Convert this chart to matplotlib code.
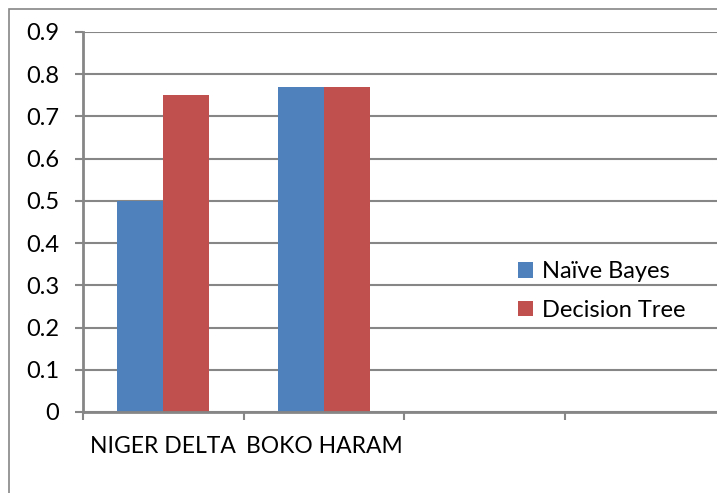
import numpy as np
import matplotlib
matplotlib.use('Agg')
import matplotlib.pyplot as plt
from matplotlib.patches import Rectangle

plt.rcParams['font.family'] = ['Lato', 'DejaVu Sans']

# Datos del gráfico
categorias = ['NIGER DELTA', 'BOKO HARAM', '', '']
naive_bayes = [0.5, 0.77]
decision_tree = [0.75, 0.77]
series = ['Naïve Bayes', 'Decision Tree']
colores = ['#4F81BD', '#C0504D']
gris = '#868686'

fig = plt.figure(figsize=(7.17, 4.93), dpi=100)
fig.patch.set_facecolor('white')

# Borde exterior del gráfico (se sale de la imagen a la derecha y abajo)
fig.patches.append(Rectangle((9 / 717, -0.1), 1.2, 1 - 9 / 493 + 0.1,
                             transform=fig.transFigure, fill=False,
                             edgecolor=gris, linewidth=1.2))

ax = fig.add_axes([83 / 717, 1 - 412 / 493, 643 / 717, 380 / 493])

ancho = 1 / 3.5
x = np.arange(len(naive_bayes)) + 0.5
ax.bar(x - ancho / 2, naive_bayes, ancho, color=colores[0], label=series[0])
ax.bar(x + ancho / 2, decision_tree, ancho, color=colores[1], label=series[1])

ax.set_xlim(0, len(categorias))
ax.set_ylim(0, 0.9)
ax.set_yticks(np.arange(0, 0.91, 0.1))
ax.set_yticklabels(['0'] + ['%.1f' % v for v in np.arange(0.1, 0.91, 0.1)])
ax.yaxis.grid(True, color=gris, linewidth=1.5)
ax.set_axisbelow(True)

ax.set_xticks(np.arange(len(categorias) + 1))
ax.set_xticklabels([])
ax.set_xticks(np.arange(len(categorias)) + 0.5, minor=True)
ax.set_xticklabels(categorias, minor=True, fontsize=16.5)
ax.tick_params(axis='x', which='major', length=6, width=1.5, color=gris, direction='out')
ax.tick_params(axis='x', which='minor', length=0, pad=17)
ax.tick_params(axis='y', length=6, width=1.5, color=gris, pad=11, labelsize=17)

for lado in ['top', 'right']:
    ax.spines[lado].set_visible(False)
for lado in ['left', 'bottom']:
    ax.spines[lado].set_color(gris)
    ax.spines[lado].set_linewidth(2)

ax.legend(loc='center left', bbox_to_anchor=(518 / 717, 1 - 291 / 493),
          bbox_transform=fig.transFigure, frameon=False, fontsize=17,
          handlelength=0.65, handleheight=0.65, handletextpad=0.35,
          labelspacing=0.75, borderaxespad=0, borderpad=0)

plt.savefig('out.png', dpi=100)
